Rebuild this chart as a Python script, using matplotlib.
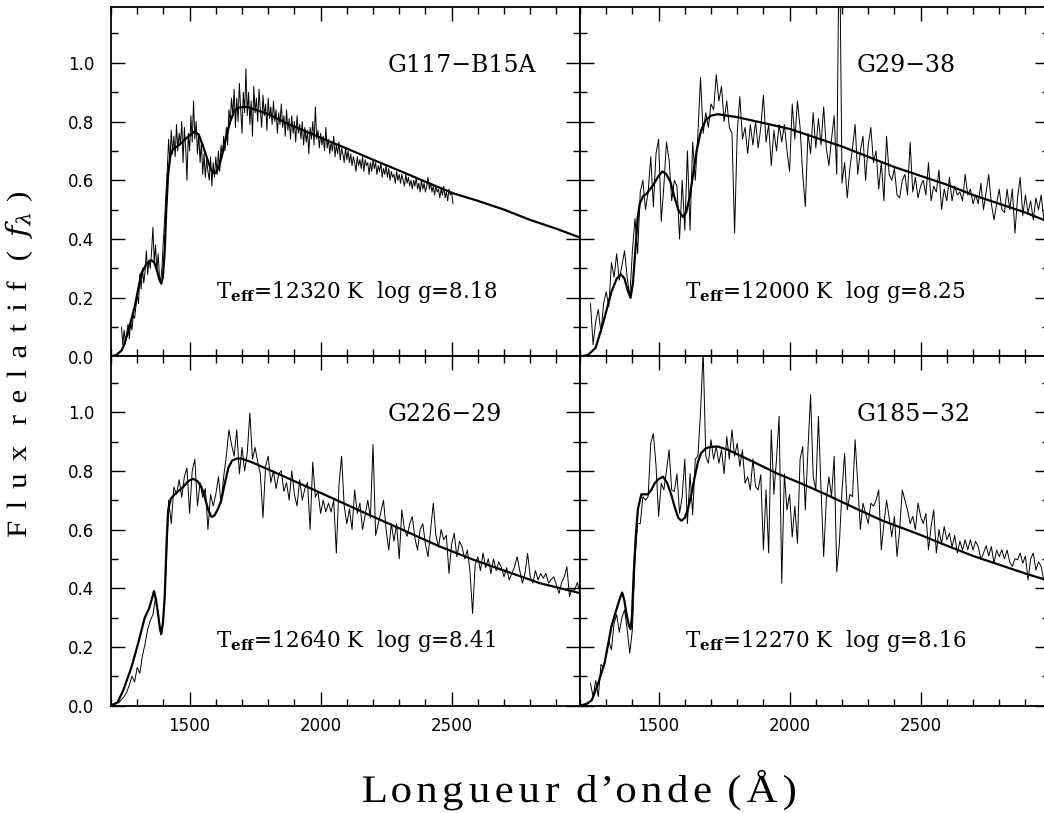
import numpy as np
import matplotlib
matplotlib.use("Agg")
import matplotlib.pyplot as plt
from matplotlib.ticker import MultipleLocator, FormatStrFormatter
from matplotlib.textpath import TextPath
from matplotlib.patches import PathPatch
from matplotlib.path import Path
from matplotlib.font_manager import FontProperties
from matplotlib.transforms import Affine2D, IdentityTransform

plt.rcParams['mathtext.fontset'] = 'dejavuserif'

# star names and fitted parameters (panel order: TL, TR, BL, BR)
names = ["G117\u2212B15A", "G29\u221238", "G226\u221229", "G185\u221232"]
teffs = [12320, 12000, 12640, 12270]
loggs = [8.18, 8.25, 8.41, 8.16]

# observed spectra: first wavelength, sampling step (A), relative flux
obs1_start, obs1_step = 1240, 5
obs1_flux = [
    0.10, 0.04, 0.09, 0.05, 0.08, 0.11, 0.06, 0.12, 0.09, 0.14,
    0.13, 0.17, 0.21, 0.18, 0.28, 0.23, 0.30, 0.25, 0.29, 0.36,
    0.28, 0.33, 0.30, 0.36, 0.44, 0.32, 0.38, 0.29, 0.35, 0.27,
    0.26, 0.31, 0.40, 0.47, 0.56, 0.64, 0.74, 0.66, 0.77, 0.69,
    0.75, 0.68, 0.79, 0.70, 0.76, 0.72, 0.80, 0.66, 0.78, 0.71,
    0.60, 0.76, 0.70, 0.82, 0.73, 0.87, 0.74, 0.80, 0.69, 0.76,
    0.66, 0.73, 0.62, 0.69, 0.61, 0.67, 0.63, 0.60, 0.68, 0.58,
    0.66, 0.61, 0.68, 0.62, 0.70, 0.63, 0.72, 0.68, 0.75, 0.70,
    0.78, 0.72, 0.84, 0.80, 0.88, 0.82, 0.91, 0.78, 0.88, 0.80,
    0.93, 0.84, 0.76, 0.90, 0.83, 0.98, 0.82, 0.90, 0.79, 0.87,
    0.75, 0.92, 0.83, 0.88, 0.80, 0.91, 0.84, 0.78, 0.89, 0.82,
    0.86, 0.77, 0.88, 0.81, 0.85, 0.79, 0.87, 0.80, 0.84, 0.76,
    0.83, 0.79, 0.86, 0.78, 0.82, 0.75, 0.84, 0.77, 0.81, 0.74,
    0.82, 0.76, 0.80, 0.73, 0.82, 0.76, 0.79, 0.74, 0.80, 0.72,
    0.78, 0.73, 0.77, 0.69, 0.78, 0.74, 0.80, 0.72, 0.85, 0.74,
    0.77, 0.71, 0.76, 0.72, 0.75, 0.70, 0.78, 0.71, 0.74, 0.69,
    0.73, 0.70, 0.75, 0.68, 0.72, 0.69, 0.73, 0.67, 0.71, 0.69,
    0.66, 0.71, 0.67, 0.70, 0.66, 0.69, 0.65, 0.68, 0.66, 0.63,
    0.68, 0.65, 0.67, 0.64, 0.68, 0.63, 0.67, 0.65, 0.66, 0.62,
    0.66, 0.63, 0.67, 0.64, 0.66, 0.62, 0.65, 0.63, 0.66, 0.61,
    0.64, 0.62, 0.65, 0.61, 0.64, 0.60, 0.63, 0.61, 0.62, 0.59,
    0.63, 0.60, 0.62, 0.59, 0.62, 0.60, 0.58, 0.62, 0.59, 0.61,
    0.58, 0.60, 0.57, 0.60, 0.58, 0.61, 0.57, 0.59, 0.56, 0.60,
    0.57, 0.59, 0.56, 0.58, 0.61, 0.57, 0.59, 0.56, 0.58, 0.55,
    0.58, 0.56, 0.57, 0.54, 0.57, 0.55, 0.58, 0.54, 0.56, 0.53,
    0.57, 0.55, 0.56, 0.52]

obs2_start, obs2_step = 1240, 10
obs2_flux = [
    0.18, 0.04, 0.12, 0.16, 0.08, 0.18, 0.22, 0.17, 0.32, 0.27,
    0.35, 0.26, 0.31, 0.36, 0.27, 0.20, 0.36, 0.47, 0.35, 0.56,
    0.60, 0.50, 0.56, 0.68, 0.51, 0.69, 0.74, 0.46, 0.58, 0.73,
    0.67, 0.53, 0.60, 0.58, 0.40, 0.60, 0.43, 0.70, 0.43, 0.73,
    0.60, 0.76, 0.95, 0.76, 0.83, 0.78, 0.86, 0.84, 0.96, 0.87,
    0.92, 0.80, 0.87, 0.78, 0.76, 0.42, 0.76, 0.885, 0.74, 0.78,
    0.69, 0.79, 0.72, 0.80, 0.71, 0.78, 0.89, 0.73, 0.79, 0.65,
    0.77, 0.70, 0.79, 0.73, 0.79, 0.70, 0.63, 0.86, 0.74, 0.87,
    0.78, 0.62, 0.51, 0.76, 0.69, 0.83, 0.71, 0.81, 0.72, 0.85,
    0.71, 0.65, 0.74, 0.82, 0.62, 1.50, 0.59, 0.66, 0.54, 0.64,
    0.71, 0.79, 0.62, 0.70, 0.75, 0.60, 0.72, 0.78, 0.66, 0.70,
    0.57, 0.66, 0.53, 0.75, 0.62, 0.60, 0.64, 0.55, 0.54, 0.60,
    0.62, 0.55, 0.73, 0.56, 0.61, 0.54, 0.58, 0.60, 0.55, 0.66,
    0.53, 0.58, 0.56, 0.635, 0.50, 0.57, 0.53, 0.61, 0.53, 0.58,
    0.55, 0.56, 0.53, 0.62, 0.55, 0.57, 0.52, 0.55, 0.52, 0.59,
    0.50, 0.56, 0.62, 0.52, 0.465, 0.52, 0.57, 0.50, 0.49, 0.57,
    0.50, 0.57, 0.42, 0.54, 0.61, 0.48, 0.55, 0.49, 0.53, 0.465,
    0.54, 0.50, 0.55, 0.465, 0.50, 0.45]

obs3_start, obs3_step = 1200, 10
obs3_flux = [
    0.00, 0.005, 0.01, 0.01, 0.02, 0.03, 0.045, 0.07, 0.10, 0.08,
    0.13, 0.11, 0.17, 0.21, 0.26, 0.29, 0.31, 0.37, 0.31, 0.24,
    0.30, 0.46, 0.70, 0.62, 0.745, 0.72, 0.77, 0.71, 0.78, 0.81,
    0.655, 0.80, 0.84, 0.68, 0.76, 0.71, 0.74, 0.60, 0.72, 0.68,
    0.72, 0.78, 0.69, 0.78, 0.85, 0.94, 0.89, 0.85, 0.94, 0.79,
    0.88, 0.80, 0.86, 0.997, 0.84, 0.88, 0.83, 0.79, 0.64, 0.815,
    0.85, 0.76, 0.80, 0.74, 0.79, 0.80, 0.73, 0.76, 0.70, 0.80,
    0.72, 0.68, 0.77, 0.70, 0.74, 0.76, 0.60, 0.83, 0.71, 0.73,
    0.655, 0.70, 0.66, 0.69, 0.66, 0.70, 0.52, 0.75, 0.85, 0.68,
    0.62, 0.67, 0.60, 0.735, 0.655, 0.69, 0.60, 0.65, 0.70, 0.64,
    0.89, 0.58, 0.62, 0.66, 0.70, 0.60, 0.53, 0.62, 0.56, 0.62,
    0.50, 0.667, 0.60, 0.577, 0.62, 0.644, 0.57, 0.53, 0.60, 0.62,
    0.55, 0.507, 0.60, 0.69, 0.58, 0.54, 0.60, 0.565, 0.58, 0.45,
    0.55, 0.588, 0.507, 0.56, 0.54, 0.50, 0.53, 0.46, 0.314, 0.48,
    0.507, 0.46, 0.52, 0.47, 0.50, 0.45, 0.50, 0.46, 0.49, 0.47,
    0.439, 0.47, 0.428, 0.45, 0.473, 0.507, 0.46, 0.417, 0.45, 0.519,
    0.44, 0.417, 0.46, 0.428, 0.45, 0.434, 0.45, 0.417, 0.43, 0.439,
    0.41, 0.382, 0.42, 0.439, 0.473, 0.371, 0.40, 0.394, 0.42, 0.382]

obs4_start, obs4_step = 1240, 10
obs4_flux = [
    0.075, 0.03, 0.085, 0.03, 0.14, 0.13, 0.17, 0.22, 0.19, 0.28,
    0.31, 0.25, 0.30, 0.326, 0.26, 0.178, 0.26, 0.50, 0.62, 0.62,
    0.712, 0.70, 0.712, 0.894, 0.928, 0.82, 0.645, 0.758, 0.735, 0.80,
    0.872, 0.735, 0.73, 0.79, 0.655, 0.712, 0.84, 0.62, 0.79, 0.65,
    0.84, 0.85, 1.00, 1.21, 0.85, 0.826, 0.906, 0.84, 0.883, 0.826,
    0.872, 0.79, 0.917, 0.84, 0.94, 0.85, 0.894, 0.815, 0.872, 0.758,
    0.78, 0.735, 0.84, 0.746, 0.735, 0.787, 0.531, 0.735, 0.52, 0.94,
    0.72, 0.84, 0.986, 0.417, 0.79, 0.667, 0.72, 0.575, 0.68, 0.553,
    0.84, 0.883, 0.667, 0.872, 1.06, 0.78, 0.735, 0.986, 0.735, 0.508,
    0.70, 0.78, 0.712, 0.85, 0.456, 0.553, 0.735, 0.86, 0.667, 0.72,
    0.712, 0.906, 0.758, 0.60, 0.69, 0.655, 0.62, 0.69, 0.68, 0.70,
    0.735, 0.531, 0.62, 0.70, 0.64, 0.575, 0.645, 0.508, 0.60, 0.735,
    0.70, 0.667, 0.62, 0.645, 0.60, 0.69, 0.645, 0.62, 0.655, 0.531,
    0.61, 0.667, 0.52, 0.60, 0.55, 0.61, 0.565, 0.587, 0.54, 0.58,
    0.52, 0.56, 0.53, 0.565, 0.531, 0.565, 0.53, 0.56, 0.542, 0.497,
    0.52, 0.545, 0.51, 0.542, 0.485, 0.53, 0.508, 0.531, 0.50, 0.53,
    0.49, 0.474, 0.50, 0.497, 0.52, 0.485, 0.51, 0.428, 0.50, 0.52,
    0.462, 0.49, 0.474, 0.428, 0.47, 0.45]

# model spectra: (wavelength, flux)
mod1 = [(1200, 0.0), (1220, 0.005), (1240, 0.02), (1252, 0.044), (1270, 0.10),
        (1290, 0.168), (1316, 0.283), (1335, 0.315), (1354, 0.328), (1365, 0.32),
        (1375, 0.295), (1385, 0.26), (1392, 0.248), (1398, 0.27), (1405, 0.36),
        (1411, 0.50), (1418, 0.62), (1426, 0.68), (1435, 0.705), (1460, 0.72),
        (1490, 0.745), (1519, 0.766), (1535, 0.755), (1550, 0.72), (1565, 0.68),
        (1578, 0.645), (1589, 0.625), (1600, 0.625), (1612, 0.645), (1625, 0.69),
        (1640, 0.75), (1655, 0.80), (1672, 0.838), (1690, 0.848), (1720, 0.85),
        (1800, 0.825), (1870, 0.794), (1900, 0.783), (2000, 0.745), (2100, 0.708),
        (2200, 0.67), (2300, 0.633), (2400, 0.595), (2505, 0.556), (2600, 0.53),
        (2700, 0.50), (2800, 0.465), (2900, 0.435), (2990, 0.405)]

mod2 = [(1200, 0.0), (1230, 0.005), (1260, 0.03), (1290, 0.12), (1320, 0.22),
        (1340, 0.265), (1356, 0.28), (1370, 0.265), (1382, 0.225), (1393, 0.20),
        (1402, 0.25), (1412, 0.37), (1420, 0.47), (1428, 0.52), (1440, 0.545),
        (1455, 0.555), (1480, 0.585), (1500, 0.615), (1515, 0.63), (1530, 0.62),
        (1545, 0.595), (1560, 0.545), (1575, 0.50), (1592, 0.475), (1605, 0.49),
        (1618, 0.54), (1630, 0.61), (1645, 0.70), (1662, 0.77), (1680, 0.805),
        (1700, 0.82), (1725, 0.825), (1800, 0.815), (1900, 0.795), (2000, 0.775),
        (2100, 0.745), (2200, 0.715), (2300, 0.68), (2400, 0.645), (2500, 0.615),
        (2600, 0.585), (2700, 0.55), (2800, 0.52), (2900, 0.49), (2990, 0.458)]

mod3 = [(1200, 0.0), (1225, 0.01), (1246, 0.05), (1278, 0.13), (1303, 0.21),
        (1329, 0.30), (1345, 0.33), (1355, 0.36), (1364, 0.39), (1372, 0.36),
        (1380, 0.31), (1387, 0.26), (1392, 0.245), (1398, 0.28), (1405, 0.37),
        (1412, 0.55), (1418, 0.665), (1428, 0.705), (1443, 0.72), (1475, 0.745),
        (1495, 0.765), (1513, 0.773), (1530, 0.765), (1545, 0.745), (1558, 0.71),
        (1570, 0.67), (1583, 0.643), (1595, 0.648), (1608, 0.67), (1621, 0.70),
        (1635, 0.76), (1648, 0.81), (1662, 0.835), (1680, 0.842), (1698, 0.842),
        (1736, 0.83), (1800, 0.805), (1900, 0.765), (2000, 0.725), (2074, 0.695),
        (2200, 0.644), (2328, 0.593), (2455, 0.542), (2583, 0.497), (2710, 0.457),
        (2837, 0.417), (2964, 0.389), (2990, 0.383)]

mod4 = [(1200, 0.0), (1225, 0.005), (1245, 0.018), (1269, 0.075), (1294, 0.145),
        (1320, 0.27), (1340, 0.33), (1352, 0.365), (1361, 0.385), (1369, 0.36),
        (1377, 0.315), (1386, 0.275), (1393, 0.26), (1398, 0.30), (1405, 0.45),
        (1413, 0.58), (1421, 0.67), (1434, 0.72), (1459, 0.72), (1472, 0.735),
        (1485, 0.758), (1500, 0.772), (1517, 0.78), (1532, 0.76), (1548, 0.72),
        (1562, 0.675), (1575, 0.64), (1587, 0.63), (1600, 0.64), (1612, 0.67),
        (1625, 0.72), (1638, 0.78), (1650, 0.83), (1662, 0.86), (1680, 0.877),
        (1700, 0.882), (1726, 0.883), (1764, 0.872), (1854, 0.834), (1955, 0.79),
        (2050, 0.755), (2150, 0.715), (2252, 0.672), (2350, 0.632), (2498, 0.582),
        (2600, 0.545), (2700, 0.51), (2800, 0.48), (2900, 0.45), (2990, 0.425)]

observed = [(obs1_start, obs1_step, obs1_flux), (obs2_start, obs2_step, obs2_flux),
            (obs3_start, obs3_step, obs3_flux), (obs4_start, obs4_step, obs4_flux)]
models = [mod1, mod2, mod3, mod4]

W, H = 1044, 813
fig = plt.figure(figsize=(W / 100, H / 100), dpi=100)

# panel boxes in pixels: left, top, width, height
boxes = [(111, 7, 469, 349.5), (580, 7, 469, 349.5),
         (111, 356.5, 469, 349), (580, 356.5, 469, 349)]

for i, (x0, y0, w, h) in enumerate(boxes):
    ax = fig.add_axes([x0 / W, 1 - (y0 + h) / H, w / W, h / H])
    start, step, flux = observed[i]
    wave = start + step * np.arange(len(flux))
    ax.plot(wave, flux, color='k', lw=0.7)
    mw, mf = zip(*models[i])
    ax.plot(mw, mf, color='k', lw=1.6)

    ax.set_xlim(1200, 2990)
    ax.set_ylim(0, 1.19)
    ax.xaxis.set_major_locator(MultipleLocator(500))
    ax.xaxis.set_minor_locator(MultipleLocator(100))
    ax.yaxis.set_major_locator(MultipleLocator(0.2))
    ax.yaxis.set_minor_locator(MultipleLocator(0.1))
    ax.yaxis.set_major_formatter(FormatStrFormatter('%.1f'))
    ax.tick_params(which='both', direction='in', top=True, right=True, width=1)
    ax.tick_params(which='major', length=10)
    ax.tick_params(which='minor', length=5)
    ax.tick_params(axis='y', pad=12, labelsize=12)
    ax.tick_params(axis='x', pad=8, labelsize=12)
    for s in ax.spines.values():
        s.set_linewidth(1.3)
    if i < 2:
        ax.tick_params(labelbottom=False)
    if i % 2 == 1:
        ax.tick_params(labelleft=False)

    ax.text(2255, 0.97, names[i], fontsize=17, family='DejaVu Serif')
    ax.text(1600, 0.199, r'T$_{\mathbf{eff}}$=%d K  log g=%.2f' % (teffs[i], loggs[i]),
            fontsize=15.5, family='DejaVu Serif')


def spaced_label(parts, em, length, bx, by, angle=0, sx=1.1):
    # widely spaced thin serif label, glyphs placed one by one (pixels)
    prop = FontProperties(family='Liberation Serif')
    glyphs = [None if p == ' ' else
              TextPath((0, 0), p, size=em, prop=prop).transformed(Affine2D().scale(sx, 1))
              for p in parts]
    widths = [g.get_extents().width for g in glyphs if g is not None]
    space = 0.3 * em
    n_sp = parts.count(' ')
    gap = (length - sum(widths) - space * n_sp) / (len(widths) - 1)
    x, paths = 0.0, []
    for g in glyphs:
        if g is None:
            x += space
            continue
        bb = g.get_extents()
        paths.append(g.transformed(Affine2D().translate(x - bb.x0, 0)))
        x += bb.width + gap
    total = x - gap
    path = Path.make_compound_path(*paths)
    tr = Affine2D().translate(-total / 2, 0).rotate_deg(angle).translate(bx, by)
    fig.add_artist(PathPatch(tr.transform_path(path), facecolor='k', edgecolor='none',
                             transform=IdentityTransform()))


spaced_label(list("Longueur") + [' '] + list("d\u2019onde") + [' ', '(', '\u00c5', ')'],
             39, 432, 579, H - 802)
spaced_label(list("Flux") + [' '] + list("relatif") + [' ', '(', r'$f_\lambda$', ')'],
             28, 344, 26, H - 365, angle=90)

fig.savefig("out.png", dpi=100)
